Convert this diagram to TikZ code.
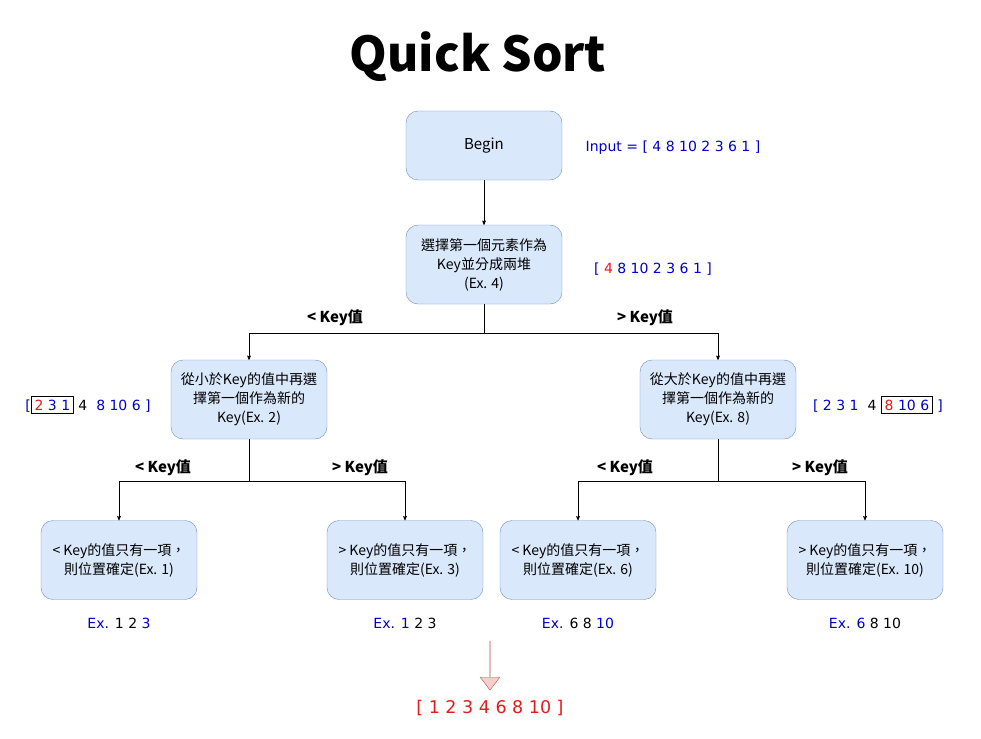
\documentclass[tikz,border=0pt]{standalone}
\usepackage{fontspec}
\setmainfont{Noto Sans CJK TC}
\newfontfamily\numfont{DejaVu Sans}
\usetikzlibrary{arrows,shapes.arrows}
\tikzset{
	box/.style={draw=boxLine, fill=boxFill, rounded corners=12pt, minimum width=156pt,
		minimum height=79pt, align=center, font=\fontsize{14}{19}\selectfont},
	numtxt/.style={font=\numfont\fontsize{14}{17}\selectfont, text=numBlue},
	keylab/.style={font=\bfseries\fontsize{15}{17}\selectfont},
	conn/.style={->, >=stealth', semithick}
}
\definecolor{boxFill}{HTML}{DAE8FC}
\definecolor{boxLine}{HTML}{6C8EBF}
\definecolor{numBlue}{HTML}{0000CC}
\definecolor{numRed}{HTML}{E51A1A}
\definecolor{arrFill}{HTML}{F8CECC}
\definecolor{arrLine}{HTML}{B85450}
\newcommand{\redt}[1]{\textcolor{numRed}{#1}}
\newcommand{\blk}[1]{\textcolor{black}{#1}}
\newcommand{\hl}[1]{{\setlength{\fboxsep}{3pt}\setlength{\fboxrule}{0.8pt}\fcolorbox{black}{white}{#1}}}
\begin{document}
\begin{tikzpicture}[x=1pt,y=-1pt]
	\useasboundingbox (0,0) rectangle (981,738);
	\node[font=\bfseries\fontsize{48}{50}\selectfont] (title) at (478,57) {Quick Sort};
	\node[box, minimum height=69pt, font=\fontsize{15}{19}\selectfont] (begin) at (484,145.5) {Begin};
	\node[numtxt] (input) at (673,148) {Input = [ 4 8 10 2 3 6 1 ]};
	\node[box] (key) at (484,264.5) {選擇第一個元素作為\\Key並分成兩堆\\(Ex. 4)};
	\node[numtxt] (input2) at (653,269) {[ \redt{4} 8 10 2 3 6 1 ]};
	\node[box] (lo) at (249,399.5) {從小於Key的值中再選\\擇第一個作為新的\\Key(Ex. 2)};
	\node[box] (hi) at (718,399.5) {從大於Key的值中再選\\擇第一個作為新的\\Key(Ex. 8)};
	\node[numtxt] (loList) at (88,405) {[\hl{\redt{2} 3 1} \blk{4}\ \ 8 10 6 ]};
	\node[numtxt] (hiList) at (878,405) {[ 2 3 1\ \ \blk{4} \hl{\redt{8} 10 6} ]};
	\node[box] (l1) at (119,560) {< Key的值只有一項，\\則位置確定(Ex. 1)};
	\node[box] (l2) at (405,560) {> Key的值只有一項，\\則位置確定(Ex. 3)};
	\node[box] (l3) at (578,560) {< Key的值只有一項，\\則位置確定(Ex. 6)};
	\node[box] (l4) at (865,560) {> Key的值只有一項，\\則位置確定(Ex. 10)};
	\node[numtxt] (ex1) at (119,623) {Ex. \blk{1 2} 3};
	\node[numtxt] (ex2) at (405,623) {Ex. 1 \blk{2 3}};
	\node[numtxt] (ex3) at (578,623) {Ex. \blk{6 8} 10};
	\node[numtxt] (ex4) at (865,623) {Ex. 6 \blk{8 10}};
	\node[keylab] (k1) at (335,318) {< Key值};
	\node[keylab] (k2) at (645,318) {> Key值};
	\node[keylab] (k3) at (163,468) {< Key值};
	\node[keylab] (k4) at (360,468) {> Key值};
	\node[keylab] (k5) at (625,468) {< Key值};
	\node[keylab] (k6) at (820,468) {> Key值};
	\draw[conn] (begin) -- (key);
	\draw[conn] (key.south) -- ++(0,29) -| (lo.north);
	\draw[conn] (key.south) -- ++(0,29) -| (hi.north);
	\draw[conn] (lo.south) -- ++(0,42) -| (l1.north);
	\draw[conn] (lo.south) -- ++(0,42) -| (l2.north);
	\draw[conn] (hi.south) -- ++(0,42) -| (l3.north);
	\draw[conn] (hi.south) -- ++(0,42) -| (l4.north);
	\node[single arrow, draw=arrLine, fill=arrFill, rotate=-90, minimum height=49pt,
		minimum width=5pt, inner sep=0pt, single arrow head extend=9.5pt,
		single arrow tip angle=74] (down) at (490,665.5) {};
	\node[font=\numfont\fontsize{17.5}{19}\selectfont, text=numRed] (result) at (490,708) {[ 1 2 3 4 6 8 10 ]};
\end{tikzpicture}
\end{document}
